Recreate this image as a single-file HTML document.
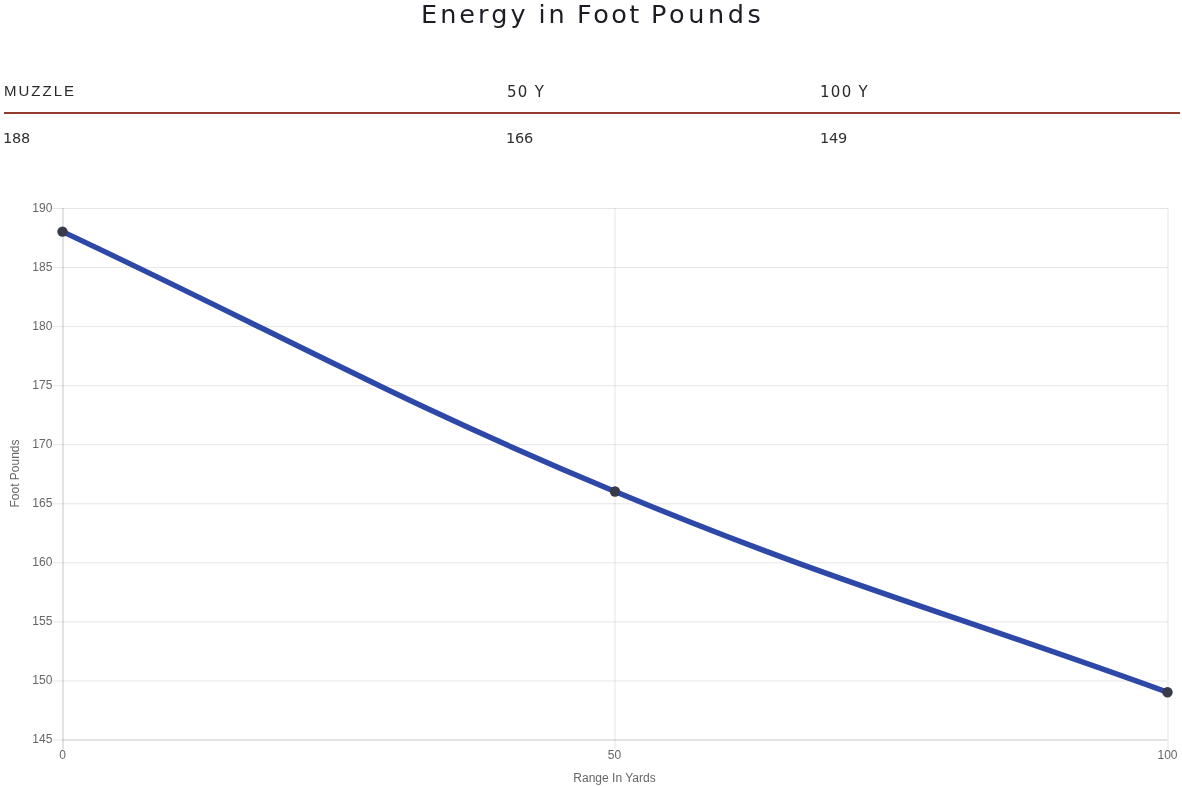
<!DOCTYPE html>
<html>
<head>
<meta charset="utf-8">
<style>
html,body{margin:0;padding:0;background:#fff;}
body{width:1182px;height:787px;position:relative;overflow:hidden;}
.t,#title,svg{will-change:transform;}
.t{position:absolute;white-space:nowrap;}
#title{position:absolute;left:0;top:0;width:1182px;height:34px;font-family:"DejaVu Sans","Liberation Sans",sans-serif;font-size:25.5px;letter-spacing:2.4px;color:#1c1c24;line-height:30px;}
#title .w{position:absolute;top:-1px;white-space:nowrap;}
.th{font-family:"Liberation Sans",sans-serif;font-size:15px;letter-spacing:2px;color:#2a2a2a;top:82px;line-height:18px;}
.th2{font-family:"DejaVu Sans","Liberation Sans",sans-serif;font-size:15px;letter-spacing:1.3px;color:#2a2a2a;top:83px;line-height:18px;}
.td{font-family:"DejaVu Sans","Liberation Sans",sans-serif;font-size:14.5px;letter-spacing:-0.2px;color:#303030;top:129px;line-height:18px;}
#rule{position:absolute;left:4px;top:112px;width:1176px;height:2px;background:#923c30;}
svg{position:absolute;left:0;top:0;}
svg text{font-family:"Liberation Sans",Arial,sans-serif;font-size:12px;fill:#666;}
</style>
</head>
<body>
<div id="title"><span class="w" style="left:421px;letter-spacing:3.05px">Energy</span> <span class="w" style="left:538.5px;letter-spacing:3px">in</span> <span class="w" style="left:577px;letter-spacing:2.45px">Foot</span> <span class="w" style="left:651px;letter-spacing:3.6px">Pounds</span></div>
<div class="t th" style="left:4px">MUZZLE</div>
<div class="t th2" style="left:507px">50 Y</div>
<div class="t th2" style="left:819.5px">100 Y</div>
<div id="rule"></div>
<div class="t td" style="left:3px">188</div>
<div class="t td" style="left:505.5px">166</div>
<div class="t td" style="left:819.8px">149</div>
<svg width="1182" height="787" viewBox="0 0 1182 787">
  <path d="M52.5 208.50H1167.5M52.5 267.56H1167.5M52.5 326.61H1167.5M52.5 385.67H1167.5M52.5 444.72H1167.5M52.5 503.78H1167.5M52.5 562.83H1167.5M52.5 621.89H1167.5M52.5 680.94H1167.5M52.5 740.00H1167.5" stroke="rgba(0,0,0,0.1)" stroke-width="1" fill="none"/>
  <path d="M615 208V749.5M1168 208V749.5" stroke="rgba(0,0,0,0.1)" stroke-width="1" fill="none"/>
  <path d="M63 208V749.5" stroke="rgba(0,0,0,0.22)" stroke-width="1" fill="none"/>
  <path d="M62.5 740H1167.5" stroke="rgba(0,0,0,0.12)" stroke-width="1" fill="none"/>
  <g text-anchor="end">
    <text x="52.4" y="211.50">190</text>
    <text x="52.4" y="270.56">185</text>
    <text x="52.4" y="329.61">180</text>
    <text x="52.4" y="388.67">175</text>
    <text x="52.4" y="447.72">170</text>
    <text x="52.4" y="506.78">165</text>
    <text x="52.4" y="565.83">160</text>
    <text x="52.4" y="624.89">155</text>
    <text x="52.4" y="683.94">150</text>
    <text x="52.4" y="743.00">145</text>
  </g>
  <g text-anchor="middle">
    <text x="62.5" y="759">0</text>
    <text x="614.5" y="759">50</text>
    <text x="1167.5" y="759">100</text>
    <text x="614.5" y="782">Range In Yards</text>
  </g>
  <text transform="translate(19.3 473.5) rotate(-90)" text-anchor="middle">Foot Pounds</text>
  <path d="M 62.50 231.62 C 283.50 335.56 389.81 397.60 615.00 491.47 C 831.81 581.85 946.50 611.94 1167.50 692.26" stroke="#2e48a8" stroke-width="5.5" fill="none"/>
  <g fill="#383b4a">
    <circle cx="62.5" cy="231.62" r="5.2"/>
    <circle cx="615" cy="491.47" r="5.2"/>
    <circle cx="1167.5" cy="692.26" r="5.2"/>
  </g>
</svg>
</body>
</html>
